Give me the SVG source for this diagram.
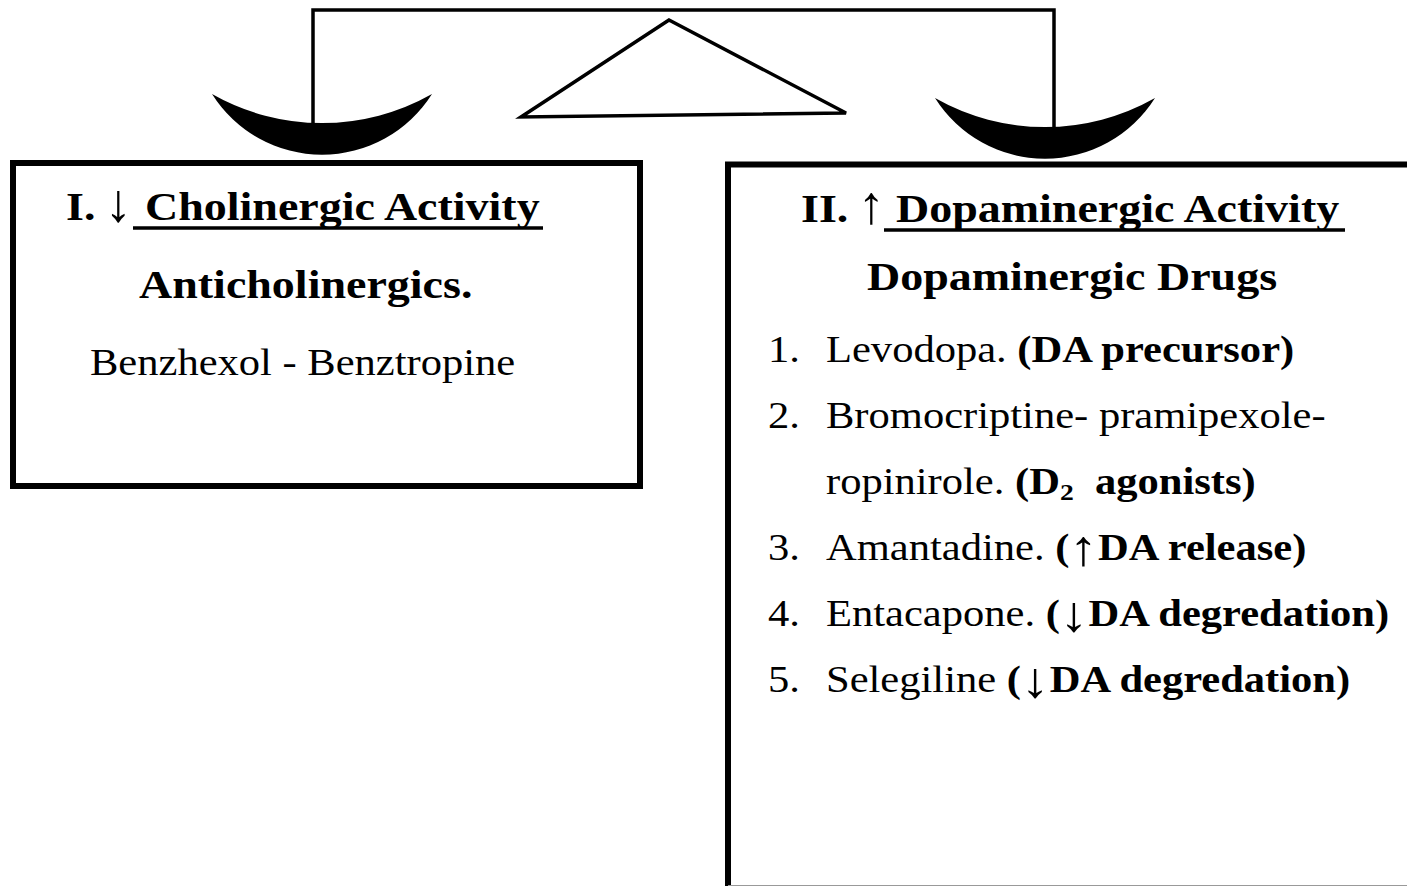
<svg xmlns="http://www.w3.org/2000/svg" width="1407" height="886" viewBox="0 0 1407 886">
<style>
text{font-family:"Liberation Serif","Times New Roman",serif;fill:#000}
.h{font-weight:bold;font-size:40px}
.r{font-size:37px}
.b{font-weight:bold}
.ha{font-size:54px}
.la{font-size:50px;font-weight:normal}
.box{fill:none;stroke:#000;stroke-width:6}
.ln{fill:none;stroke:#000;stroke-width:3.5;stroke-linejoin:miter}
.ul{stroke:#000;stroke-width:3.5}
.pan{fill:#000}
</style>
<rect width="1407" height="886" fill="#fff"/>
<g id="connectors">
  <polyline class="ln" points="313,124 313,10 1054,10 1054,128"/>
</g>
<g id="fulcrum">
  <polygon class="ln" points="669,20 521,117 846,113"/>
</g>
<g id="pan-left">
  <path class="pan" d="M212,94 A130,130 0 0 0 432,94 A223,223 0 0 1 212,94 Z"/>
</g>
<g id="pan-right">
  <path class="pan" d="M935,98 A130,130 0 0 0 1155,98 A223,223 0 0 1 935,98 Z"/>
</g>
<g id="box-cholinergic">
  <rect class="box" x="13" y="163" width="627" height="323"/>
  <text class="h" transform="translate(66,220) scale(1.15,1)">I.</text>
  <text class="h ha" transform="translate(105,221) scale(1.0,1)">↓</text>
  <text class="h" transform="translate(145,220) scale(1.15,1)">Cholinergic Activity</text>
  <line class="ul" x1="133" y1="228" x2="543" y2="228"/>
  <text class="h" transform="translate(139,298) scale(1.15,1)">Anticholinergics.</text>
  <text class="r" transform="translate(90,375) scale(1.15,1)">Benzhexol - Benztropine</text>
</g>
<g id="box-dopaminergic">
  <rect class="box" x="728" y="164.5" width="700" height="740"/>
  <line x1="728" y1="885.5" x2="1407" y2="885.5" stroke="#999" stroke-width="1"/>
  <text class="h" transform="translate(801,222) scale(1.15,1)">II.</text>
  <text class="h ha" transform="translate(858,223) scale(1.0,1)">↑</text>
  <text class="h" transform="translate(896,222) scale(1.15,1)">Dopaminergic Activity</text>
  <line class="ul" x1="884" y1="230" x2="1345" y2="230"/>
  <text class="h" transform="translate(867,290) scale(1.15,1)">Dopaminergic Drugs</text>
  <text class="r" transform="translate(768,362) scale(1.15,1)">1.</text>
  <text class="r" transform="translate(826,362) scale(1.15,1)">Levodopa. <tspan class="b">(DA precursor)</tspan></text>
  <text class="r" transform="translate(768,428) scale(1.15,1)">2.</text>
  <text class="r" transform="translate(826,428) scale(1.15,1)">Bromocriptine- pramipexole-</text>
  <text class="r" transform="translate(826,494) scale(1.15,1)">ropinirole. <tspan class="b">(D<tspan font-size="24" dy="6">2</tspan><tspan dy="-6" xml:space="preserve">  agonists)</tspan></tspan></text>
  <text class="r" transform="translate(768,560) scale(1.15,1)">3.</text>
  <text class="r" transform="translate(826,560) scale(1.15,1)">Amantadine. <tspan class="b">(</tspan><tspan class="la" dy="5">↑</tspan><tspan class="b" dy="-5">DA release)</tspan></text>
  <text class="r" transform="translate(768,626) scale(1.15,1)">4.</text>
  <text class="r" transform="translate(826,626) scale(1.15,1)">Entacapone. <tspan class="b">(</tspan><tspan class="la" dy="5">↓</tspan><tspan class="b" dy="-5">DA degredation)</tspan></text>
  <text class="r" transform="translate(768,692) scale(1.15,1)">5.</text>
  <text class="r" transform="translate(826,692) scale(1.15,1)">Selegiline <tspan class="b">(</tspan><tspan class="la" dy="5">↓</tspan><tspan class="b" dy="-5">DA degredation)</tspan></text>
</g>
</svg>
